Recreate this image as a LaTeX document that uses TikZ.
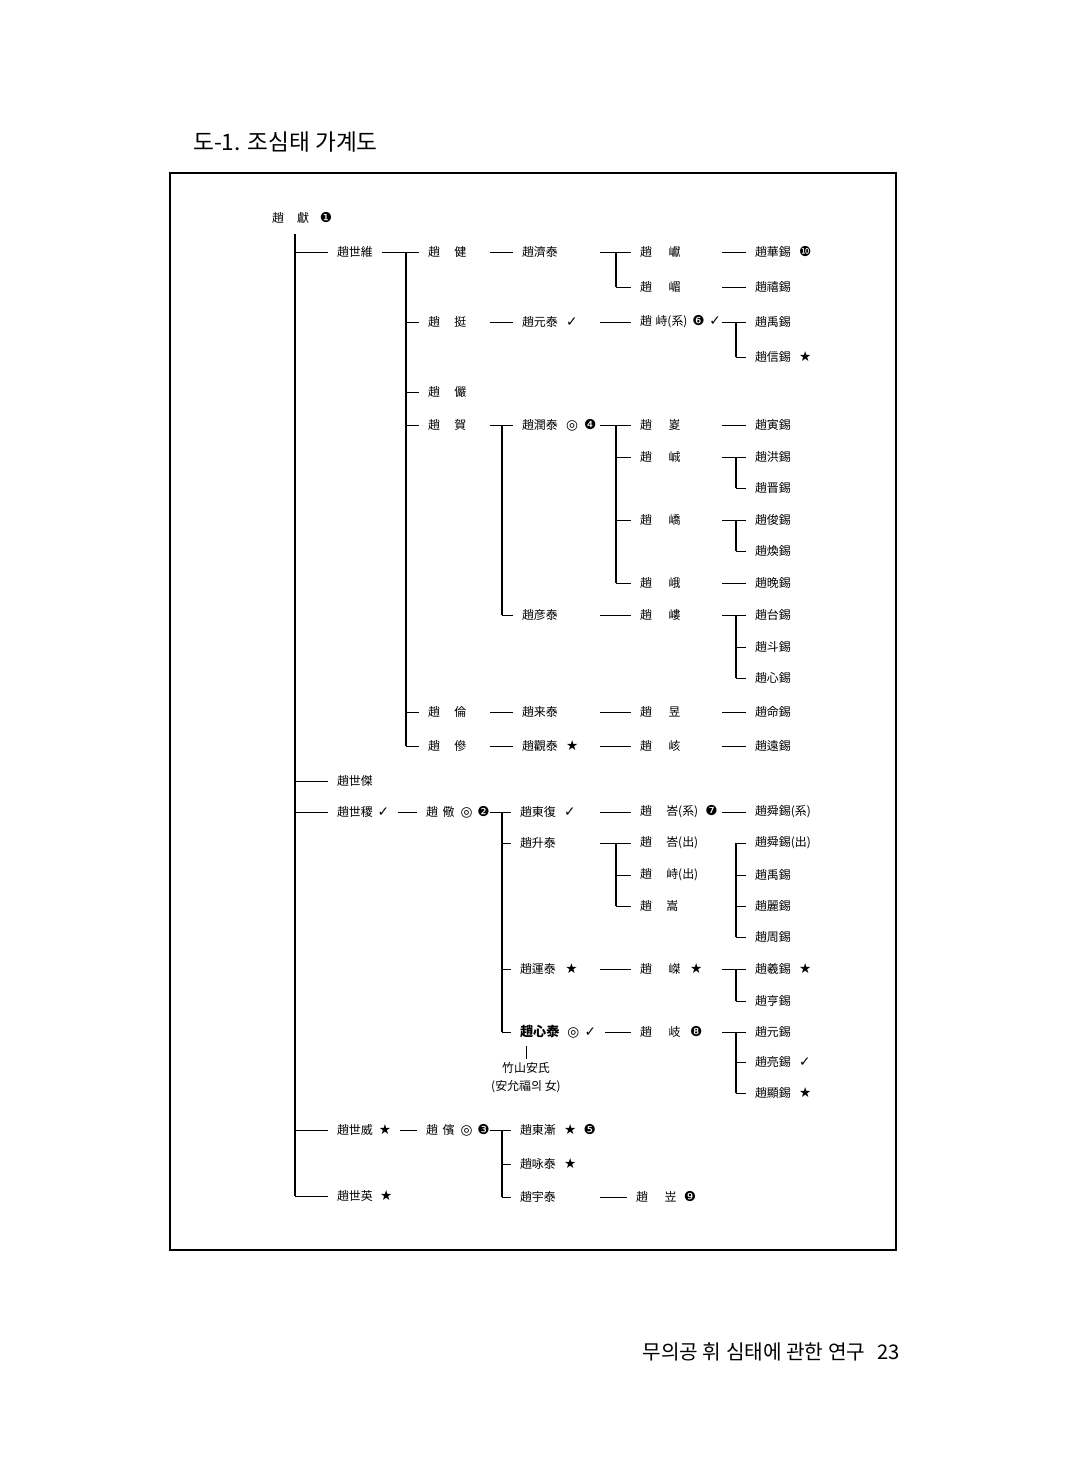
\documentclass[tikz,border=0pt]{standalone}
\usepackage{fontspec}
\newfontfamily\cjk{Noto Sans CJK KR}
\newfontfamily\symf{DejaVu Sans}
\newcommand\cn[1]{{\symf\fontsize{7.8}{9}\selectfont #1}}

\begin{document}
\begin{tikzpicture}[x=0.02cm,y=-0.02cm,
  nm/.style={anchor=west,inner sep=0pt,outer xsep=0.18cm,xshift=-0.18cm,font=\cjk\fontsize{6.8}{8}\selectfont},
  ln/.style={line width=0.5pt},
  vt/.style={line width=1pt}]
  \useasboundingbox (0,0) rectangle (1078,1474);
  \node[anchor=west,font=\cjk\fontsize{12.9}{14}\selectfont] (ttl) at (187,142) {도-1. 조심태 가계도};
  \node[anchor=east,font=\cjk\fontsize{11.5}{13}\selectfont] (ftr) at (906,1352) {무의공 휘 심태에 관한 연구\hspace{0.6em}23};
  \draw[line width=0.6pt] (170,173) rectangle (896,1250);
  % columns
  \coordinate (v0) at (295,0);
  \coordinate (v1) at (406,0);
  \coordinate (s3) at (490,0);
  \coordinate (v2) at (502,0);
  \coordinate (s4) at (600,0);
  \coordinate (v3) at (616,0);
  \coordinate (s5) at (722,0);
  \coordinate (v4) at (736,0);
  % first two generations
  \node[nm] (r) at (272,218) {趙\hspace{1.1em}獻\hspace{0.9em}\cn{❶}};
  \node[nm] (a) at (337,252) {趙世維};
  \node[nm] (b) at (337,781) {趙世傑};
  \node[nm] (c) at (337,812) {趙世稷\hspace{0.4em}\cn{✓}};
  \node[nm] (d) at (337,1130) {趙世威\hspace{0.5em}\cn{★}};
  \node[nm] (e) at (337,1196) {趙世英\hspace{0.6em}\cn{★}};
  \draw[vt] (v0 |- r.south) ++(0,10) -- (v0 |- e);
  \foreach \n in {a,b,c,d,e} \draw[ln] (v0 |- \n) -- (\n.west);
  % line of 趙世維
  \node[nm] (a1) at (428,252) {趙\hspace{1.2em}健};
  \node[nm] (a2) at (428,322) {趙\hspace{1.2em}挺};
  \node[nm] (a3) at (428,392) {趙\hspace{1.2em}儼};
  \node[nm] (a4) at (428,425) {趙\hspace{1.2em}賀};
  \node[nm] (a5) at (428,712) {趙\hspace{1.2em}倫};
  \node[nm] (a6) at (428,746) {趙\hspace{1.2em}傪};
  \draw[ln] (a.east) -- (a1.west);
  \draw[vt] (v1 |- a1) -- (v1 |- a6);
  \foreach \n in {a2,a3,a4,a5,a6} \draw[ln] (v1 |- \n) -- (\n.west);
  \node[nm] (a1a) at (522,252) {趙濟泰};
  \node[nm] (a2a) at (522,322) {趙元泰\hspace{0.7em}\cn{✓}};
  \node[nm] (a4a) at (522,425) {趙潤泰\hspace{0.7em}\cn{◎}\hspace{0.5em}\cn{❹}};
  \node[nm] (a4b) at (522,615) {趙彦泰};
  \node[nm] (a5a) at (522,712) {趙来泰};
  \node[nm] (a6a) at (522,746) {趙觀泰\hspace{0.7em}\cn{★}};
  \foreach \n/\m in {a1/a1a,a2/a2a,a4/a4a,a5/a5a,a6/a6a} \draw[ln] (s3 |- \n) -- (\m.west);
  \draw[vt] (v2 |- a4a) -- (v2 |- a4b);
  \draw[ln] (v2 |- a4b) -- (a4b.west);
  \node[nm] (a1a1) at (640,252) {趙\hspace{1.4em}巘};
  \node[nm] (a1a2) at (640,287) {趙\hspace{1.4em}嵋};
  \node[nm] (a2a1) at (640,322) {趙\hspace{0.3em}峙(系)\hspace{0.4em}\cn{❻}\hspace{0.4em}\cn{✓}};
  \node[nm] (a4a1) at (640,425) {趙\hspace{1.4em}嵏};
  \node[nm] (a4a2) at (640,457) {趙\hspace{1.4em}峸};
  \node[nm] (a4a3) at (640,520) {趙\hspace{1.4em}嶠};
  \node[nm] (a4a4) at (640,583) {趙\hspace{1.4em}峨};
  \node[nm] (a4b1) at (640,615) {趙\hspace{1.4em}嶁};
  \node[nm] (a5a1) at (640,712) {趙\hspace{1.4em}昱};
  \node[nm] (a6a1) at (640,746) {趙\hspace{1.4em}峐};
  \foreach \n/\m in {a1a/a1a1,a2a/a2a1,a4a/a4a1,a4b/a4b1,a5a/a5a1,a6a/a6a1} \draw[ln] (s4 |- \n) -- (\m.west);
  \draw[vt] (v3 |- a1a1) -- (v3 |- a1a2);
  \draw[ln] (v3 |- a1a2) -- (a1a2.west);
  \draw[vt] (v3 |- a4a1) -- (v3 |- a4a4);
  \foreach \n in {a4a2,a4a3,a4a4} \draw[ln] (v3 |- \n) -- (\n.west);
  \node[nm] (x1) at (755,252) {趙華錫\hspace{0.7em}\cn{❿}};
  \node[nm] (x2) at (755,287) {趙禧錫};
  \node[nm] (x3) at (755,322) {趙禹錫};
  \node[nm] (x4) at (755,357) {趙信錫\hspace{0.7em}\cn{★}};
  \node[nm] (x5) at (755,425) {趙寅錫};
  \node[nm] (x6) at (755,457) {趙洪錫};
  \node[nm] (x7) at (755,488) {趙晋錫};
  \node[nm] (x8) at (755,520) {趙俊錫};
  \node[nm] (x9) at (755,551) {趙煥錫};
  \node[nm] (x10) at (755,583) {趙晩錫};
  \node[nm] (x11) at (755,615) {趙台錫};
  \node[nm] (x12) at (755,647) {趙斗錫};
  \node[nm] (x13) at (755,678) {趙心錫};
  \node[nm] (x14) at (755,712) {趙命錫};
  \node[nm] (x15) at (755,746) {趙遠錫};
  \foreach \n/\m in {a1a1/x1,a1a2/x2,a2a1/x3,a4a1/x5,a4a2/x6,a4a3/x8,a4a4/x10,a4b1/x11,a5a1/x14,a6a1/x15} \draw[ln] (s5 |- \n) -- (\m.west);
  \draw[vt] (v4 |- x3) -- (v4 |- x4);
  \draw[vt] (v4 |- x6) -- (v4 |- x7);
  \draw[vt] (v4 |- x8) -- (v4 |- x9);
  \draw[vt] (v4 |- x11) -- (v4 |- x13);
  \foreach \n in {x4,x7,x9,x12,x13} \draw[ln] (v4 |- \n) -- (\n.west);
  % line of 趙世稷
  \node[nm] (c1) at (426,812) {趙\hspace{0.4em}儆\hspace{0.5em}\cn{◎}\hspace{0.4em}\cn{❷}};
  \draw[ln] (c.east) -- (c1.west);
  \node[nm] (c1a) at (520,812) {趙東復\hspace{0.7em}\cn{✓}};
  \node[nm] (c1b) at (520,843) {趙升泰};
  \node[nm] (c1c) at (520,969) {趙運泰\hspace{0.8em}\cn{★}};
  \node[nm,font=\cjk\bfseries\fontsize{7.5}{9}\selectfont] (c1d) at (520,1032) {趙心泰\hspace{0.6em}\cn{◎}\hspace{0.4em}\cn{✓}};
  \node[anchor=north,align=center,inner sep=0pt,font=\cjk\fontsize{6.8}{10.2}\selectfont] (sp) at (526,1062) {竹山安氏\\(安允福의 女)};
  \draw[ln] (s3 |- c1) -- (c1a.west);
  \draw[vt] (v2 |- c1a) -- (v2 |- c1d);
  \foreach \n in {c1b,c1c,c1d} \draw[ln] (v2 |- \n) -- (\n.west);
  \draw[ln,shorten <=4pt,shorten >=2pt] (sp.north |- c1d.south) -- (sp.north);
  \node[nm] (c1a1) at (640,812) {趙\hspace{1.2em}峇(系)\hspace{0.6em}\cn{❼}};
  \node[nm] (c1b1) at (640,843) {趙\hspace{1.2em}峇(出)};
  \node[nm] (c1b2) at (640,875) {趙\hspace{1.2em}峙(出)};
  \node[nm] (c1b3) at (640,906) {趙\hspace{1.2em}嵩};
  \node[nm] (c1c1) at (640,969) {趙\hspace{1.4em}嵥\hspace{0.8em}\cn{★}};
  \node[nm] (c1d1) at (640,1032) {趙\hspace{1.4em}岐\hspace{0.8em}\cn{❽}};
  \foreach \n/\m in {c1a/c1a1,c1b/c1b1,c1c/c1c1} \draw[ln] (s4 |- \n) -- (\m.west);
  \draw[ln] (c1d.east) -- (c1d1.west);
  \draw[vt] (v3 |- c1b1) -- (v3 |- c1b3);
  \foreach \n in {c1b2,c1b3} \draw[ln] (v3 |- \n) -- (\n.west);
  \node[nm] (y1) at (755,812) {趙舜錫(系)};
  \node[nm] (y2) at (755,843) {趙舜錫(出)};
  \node[nm] (y3) at (755,875) {趙禹錫};
  \node[nm] (y4) at (755,906) {趙麗錫};
  \node[nm] (y5) at (755,937) {趙周錫};
  \node[nm] (y6) at (755,969) {趙羲錫\hspace{0.7em}\cn{★}};
  \node[nm] (y7) at (755,1001) {趙亨錫};
  \node[nm] (y8) at (755,1032) {趙元錫};
  \node[nm] (y9) at (755,1062) {趙亮錫\hspace{0.7em}\cn{✓}};
  \node[nm] (y10) at (755,1093) {趙顯錫\hspace{0.7em}\cn{★}};
  \foreach \n/\m in {c1a1/y1,c1c1/y6,c1d1/y8} \draw[ln] (s5 |- \n) -- (\m.west);
  \draw[vt] (v4 |- y2) -- (v4 |- y5);
  \draw[vt] (v4 |- y6) -- (v4 |- y7);
  \draw[vt] (v4 |- y8) -- (v4 |- y10);
  \foreach \n in {y2,y3,y4,y5,y7,y9,y10} \draw[ln] (v4 |- \n) -- (\n.west);
  % line of 趙世威
  \node[nm] (d1) at (426,1130) {趙\hspace{0.4em}儐\hspace{0.5em}\cn{◎}\hspace{0.4em}\cn{❸}};
  \draw[ln] (d.east) -- (d1.west);
  \node[nm] (d1a) at (520,1130) {趙東漸\hspace{0.7em}\cn{★}\hspace{0.6em}\cn{❺}};
  \node[nm] (d1b) at (520,1164) {趙咏泰\hspace{0.7em}\cn{★}};
  \node[nm] (d1c) at (520,1197) {趙宇泰};
  \draw[ln] (s3 |- d1) -- (d1a.west);
  \draw[vt] (v2 |- d1a) -- (v2 |- d1c);
  \foreach \n in {d1b,d1c} \draw[ln] (v2 |- \n) -- (\n.west);
  \node[nm] (d1c1) at (636,1197) {趙\hspace{1.4em}岦\hspace{0.6em}\cn{❾}};
  \draw[ln] (s4 |- d1c) -- (d1c1.west);
\end{tikzpicture}
\end{document}
